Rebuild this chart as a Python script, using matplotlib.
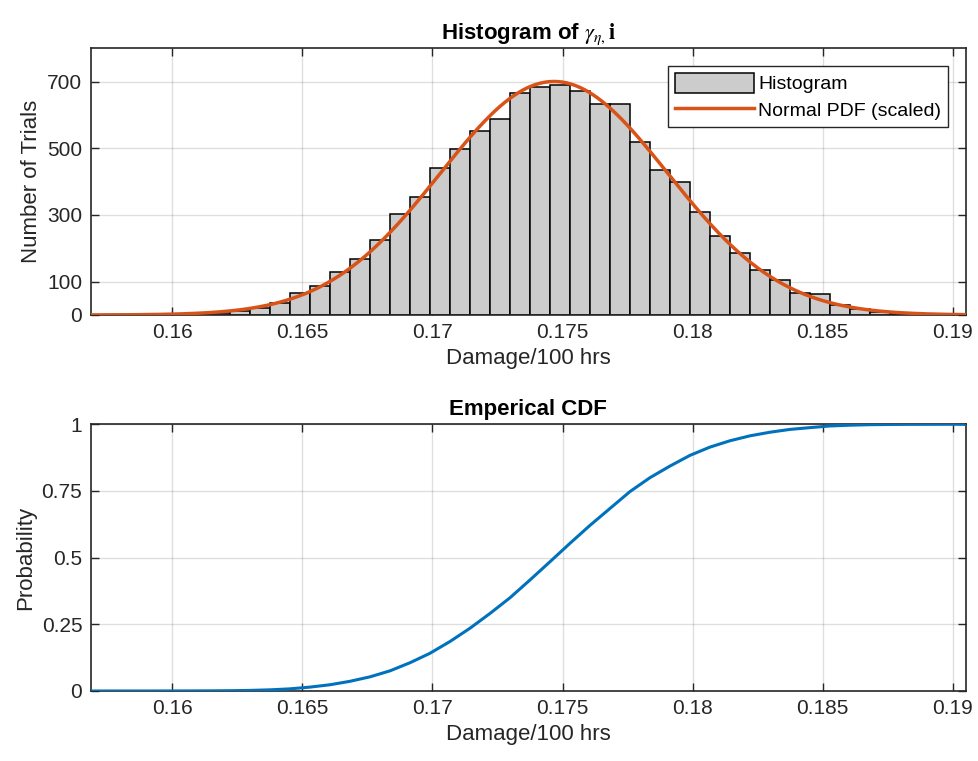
#### Workspace setup ####
import numpy as np
import matplotlib
matplotlib.use("Agg")
import matplotlib.pyplot as plt

plt.rcParams["font.family"] = ["Liberation Sans", "DejaVu Sans"]
plt.rcParams["mathtext.fontset"] = "stix"

# 1) Data
# histogram: 44 equal bins spanning the data range
bin_start = 0.15683
bin_width = 0.000769
counts = [1, 0, 0, 1, 1, 3, 5, 11, 21, 37,
          65, 88, 129, 167, 224, 303, 355, 440, 497, 553,
          587, 666, 683, 690, 672, 633, 633, 520, 435, 400,
          310, 237, 185, 135, 105, 67, 62, 29, 19, 8,
          4, 2, 1, 1]

x_ticks = [0.16, 0.165, 0.17, 0.175, 0.18, 0.185, 0.19]
x_tick_labels = ["0.16", "0.165", "0.17", "0.175", "0.18", "0.185", "0.19"]
hist_yticks = [0, 100, 300, 500, 700]
cdf_yticks = [0, 0.25, 0.5, 0.75, 1]
cdf_ytick_labels = ["0", "0.25", "0.5", "0.75", "1"]

x_lim = (0.15686, 0.19050)

# 2) Derived quantities
counts = np.array(counts, dtype=float)
edges = bin_start + bin_width * np.arange(len(counts) + 1)
centers = 0.5 * (edges[:-1] + edges[1:])
n_total = counts.sum()
mu = (counts * centers).sum() / n_total
sigma = np.sqrt((counts * (centers - mu) ** 2).sum() / n_total)

x_pdf = np.linspace(x_lim[0], x_lim[1], 400)
pdf_scaled = n_total * bin_width * np.exp(-0.5 * ((x_pdf - mu) / sigma) ** 2) / (sigma * np.sqrt(2 * np.pi))

cdf_x = np.concatenate([[x_lim[0]], edges[1:], [x_lim[1]]])
cdf_y = np.concatenate([[0.0], np.cumsum(counts) / n_total, [1.0]])

# 3) Plot
ax_col = "#262626"
fig = plt.figure(figsize=(9.79, 7.61), dpi=100)
ax1 = fig.add_axes([0.0926, 0.5861, 0.8938, 0.3505])
ax2 = fig.add_axes([0.0926, 0.0920, 0.8938, 0.3505])

bars = ax1.bar(edges[:-1], counts, width=bin_width, align="edge",
               color="#cccccc", edgecolor="black", linewidth=1.1, zorder=2)
line, = ax1.plot(x_pdf, pdf_scaled, color="#D95319", linewidth=2.5, zorder=3)
ax1.set_ylim(0, 800)
ax1.set_yticks(hist_yticks)
ax1.set_title(r"Histogram of $\gamma_{\eta,}\mathbf{i}$", fontsize=16, fontweight="bold", pad=7)
ax1.set_ylabel("Number of Trials", fontsize=16, color=ax_col)
leg = ax1.legend([bars, line], ["Histogram", "Normal PDF (scaled)"],
                 loc="upper right", fontsize=14, frameon=True, fancybox=False,
                 edgecolor=ax_col, framealpha=1, borderaxespad=0.9,
                 handlelength=4.1, handleheight=1.25, borderpad=0.35, labelspacing=0.3,
                 handletextpad=0.2)
leg.get_frame().set_linewidth(1.0)

ax2.plot(cdf_x, cdf_y, color="#0072BD", linewidth=2.2, zorder=3)
ax2.set_ylim(0, 1)
ax2.set_yticks(cdf_yticks)
ax2.set_yticklabels(cdf_ytick_labels)
ax2.set_title("Emperical CDF", fontsize=16, fontweight="bold", pad=7)
ax2.set_ylabel("Probability", fontsize=16, color=ax_col)

for ax in (ax1, ax2):
    ax.set_xlim(*x_lim)
    ax.set_xticks(x_ticks)
    ax.set_xticklabels(x_tick_labels)
    ax.set_xlabel("Damage/100 hrs", fontsize=16, color=ax_col)
    ax.grid(True, color="#262626", alpha=0.15, linewidth=1.0, zorder=0)
    ax.set_axisbelow(True)
    ax.tick_params(direction="in", top=True, right=True, length=6, width=1.0,
                   labelsize=15, colors=ax_col, pad=6)
    for s in ax.spines.values():
        s.set_color(ax_col)
        s.set_linewidth(1.2)

fig.savefig("out.png", dpi=100)
